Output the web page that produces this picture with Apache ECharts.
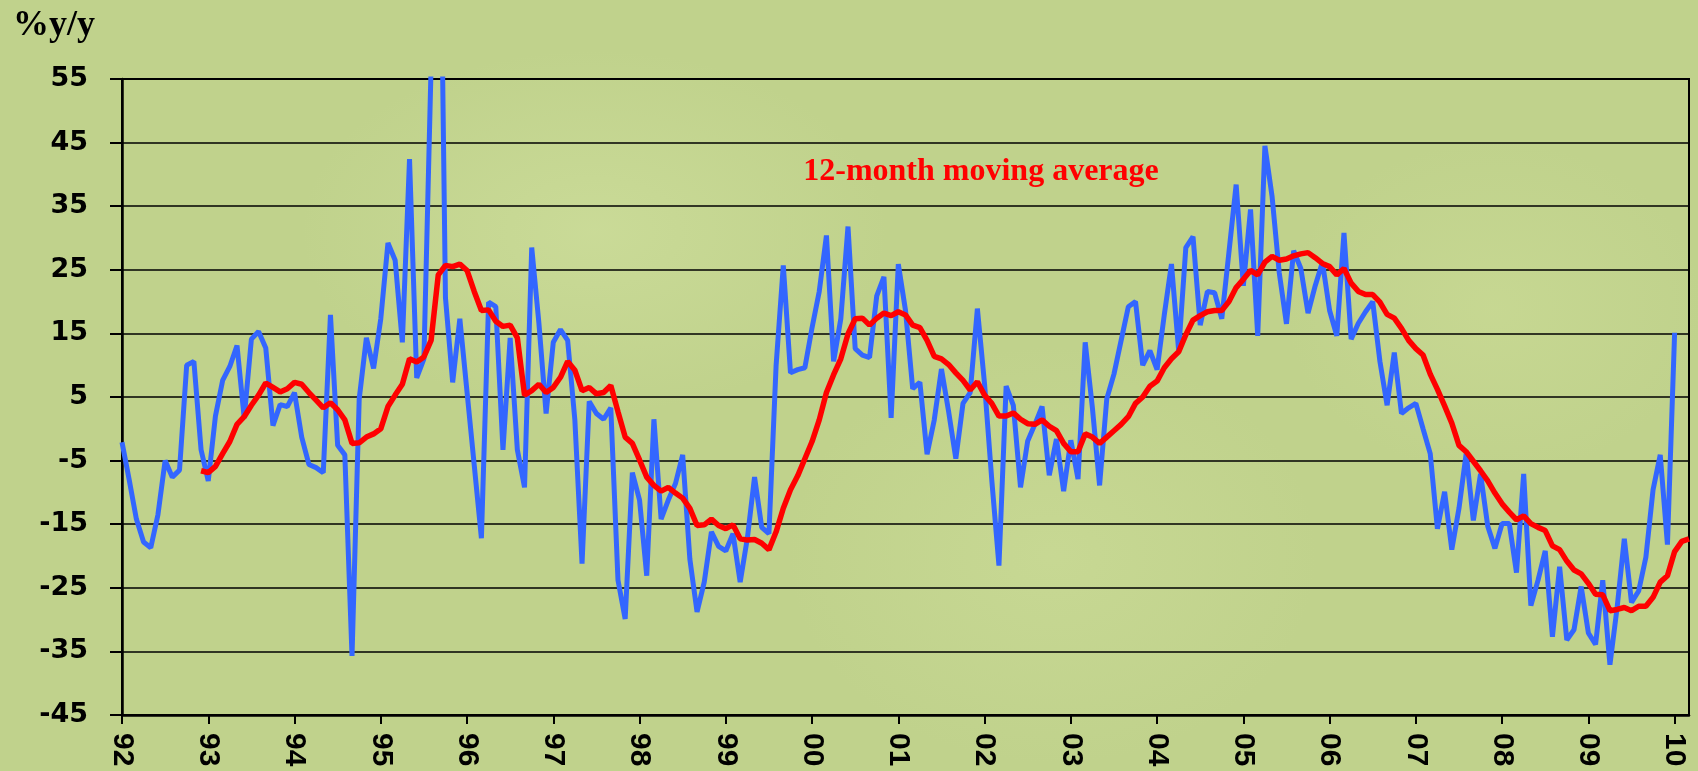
<!DOCTYPE html>
<html>
<head>
<meta charset="utf-8">
<title>%y/y</title>
<script src="https://cdn.jsdelivr.net/npm/echarts@6/dist/echarts.min.js"></script>
<style>
html, body { margin: 0; padding: 0; }
#main {
    width: 1698px;
    height: 771px;
    background-color: #c0d28c;
    background-image:
        radial-gradient(ellipse 420px 260px at 35% 30%, rgba(206,222,156,0.7), rgba(206,222,156,0) 70%),
        radial-gradient(ellipse 380px 300px at 62% 72%, rgba(204,220,152,0.6), rgba(204,220,152,0) 70%),
        radial-gradient(ellipse 300px 240px at 88% 40%, rgba(203,219,150,0.6), rgba(203,219,150,0) 70%);
}
</style>
</head>
<body>
<div id="main"></div>
<script>
// year labels on the x axis, one every 12 months starting Jan 1992
var yearTicks = ['92','93','94','95','96','97','98','99','00','01','02','03','04','05','06','07','08','09','10'];

// monthly %y/y, Jan 1992 .. Jan 2010 (one row per year)
var monthly = [
    -2.1, -8, -14.2, -17.8, -18.7, -13.5, -5.0, -7.6, -6.5, 10.0, 10.6, -3.3,
    -8.2, 2.0, 7.6, 9.8, 13.1, 1.7, 14.1, 15.3, 12.7, 0.5, 3.8, 3.5,
    5.7, -1.3, -5.6, -6.1, -6.9, 17.9, -2.6, -4.1, -35.7, 4.7, 14.3, 9.5,
    17.3, 29.2, 26.5, 13.6, 42.4, 8.0, 11.0, 57, 110, 20.6, 7.3, 17.3,
    5.8, -5.7, -17.2, 19.9, 19.2, -3.3, 14.3, -3.3, -9.2, 28.5, 16.6, 2.4,
    13.6, 15.6, 13.9, 1.4, -21.2, 4.3, 2.4, 1.5, 3.3, -23.8, -29.9, -6.9,
    -11.2, -23.1, 1.5, -14.2, -11.2, -8.6, -4.1, -20.5, -28.8, -24.1, -16.2, -18.5,
    -19.2, -16.5, -24.1, -17.2, -7.6, -15.5, -16.5, 10.0, 25.7, 8.8, 9.3, 9.6,
    15.9, 21.6, 30.4, 10.6, 17.3, 31.8, 12.6, 11.6, 11.2, 20.9, 23.9, 1.7,
    25.9, 18.6, 6.3, 7.3, -4.0, 1.4, 9.4, 2.7, -4.7, 4.0, 5.7, 18.9,
    7, -8, -21.5, 6.7, 3.7, -9.2, -1.9, 0.7, 3.5, -7.3, -1.6, -9.8,
    -1.8, -7.9, 13.6, 3.3, -8.9, 4.7, 8.6, 13.9, 19.2, 20.0, 10.0, 12.3,
    9.3, 17.9, 25.9, 12.3, 28.5, 30.2, 16.3, 21.6, 21.4, 17.3, 27.8, 38.4,
    22.5, 34.5, 14.6, 44.5, 36.5, 24.5, 16.5, 28.0, 25.2, 18.2, 22.5, 26.2,
    18.6, 14.6, 30.8, 14.1, 16.6, 18.4, 20.0, 10.6, 3.7, 12.0, 2.4, 3.3,
    4.0, 0.0, -3.9, -15.7, -9.9, -19.0, -12.5, -3.9, -14.4, -7.1, -15.3, -18.8,
    -14.9, -14.9, -22.6, -7.1, -27.8, -23.8, -19.2, -32.7, -21.7, -33.2, -31.6, -24.8,
    -32.1, -33.9, -23.8, -37.1, -28.1, -17.3, -27.3, -25.5, -20.2, -9.6, -4.1, -18.2,
    15.1
];

// 12-month moving average, starts Dec 1992 (month 11)
var maFirstMonth = 11;
var movingAvg = [
    -6.6,
    -6.9, -5.9, -3.9, -2.0, 0.7, 1.9, 3.7, 5.3, 7.2, 6.5, 5.8, 6.3,
    7.3, 7.0, 5.7, 4.5, 3.3, 4.1, 3.0, 1.4, -2.3, -2.2, -1.3, -0.8,
    0.0, 3.5, 5.3, 7.0, 11.0, 10.5, 11.3, 13.9, 24.2, 25.7, 25.5, 25.9,
    24.9, 21.6, 18.6, 18.7, 16.9, 16.1, 16.3, 14.3, 5.3, 6.0, 7.0, 5.7,
    6.5, 8.1, 10.6, 9.2, 6.0, 6.5, 5.5, 5.7, 6.8, 2.7, -1.3, -2.3,
    -4.9, -7.6, -8.9, -9.8, -9.2, -10.1, -10.9, -12.5, -15.2, -15.1, -14.2, -15.2,
    -15.7, -15.1, -17.3, -17.5, -17.4, -18.0, -19.0, -16.2, -12.5, -9.6, -7.4, -4.7,
    -2.0, 1.4, 5.7, 8.5, 11.0, 14.9, 17.3, 17.4, 16.3, 17.4, 18.2, 17.8,
    18.4, 17.9, 16.3, 15.9, 13.9, 11.4, 11.0, 10.1, 8.8, 7.6, 6.1, 7.4,
    5.3, 4.0, 2.0, 2.0, 2.5, 1.5, 0.8, 0.7, 1.4, 0.4, -0.3, -2.3,
    -3.6, -3.6, -0.8, -1.3, -2.3, -1.3, -0.3, 0.7, 1.9, 4.0, 5.0, 6.7,
    7.5, 9.6, 11.0, 12.1, 14.8, 17.1, 17.8, 18.4, 18.6, 18.6, 20.0, 22.2,
    23.5, 24.9, 24.2, 26.2, 27.1, 26.5, 26.7, 27.2, 27.5, 27.7, 26.9, 26.0,
    25.5, 24.2, 25.2, 22.9, 21.6, 21.1, 21.1, 19.9, 18.0, 17.4, 15.8, 13.9,
    12.6, 11.6, 8.6, 6.2, 3.6, 0.9, -2.6, -3.6, -5.1, -6.6, -8.2, -10.1,
    -11.8, -13.1, -14.3, -13.7, -14.9, -15.5, -16.0, -18.4, -19.0, -20.8, -22.2, -22.8,
    -24.3, -26.0, -26.1, -28.6, -28.4, -28.1, -28.6, -27.9, -27.9, -26.5, -24.1, -23.1,
    -19.3, -17.7, -17.3
];

var yTicks = [-45, -35, -25, -15, -5, 5, 15, 25, 35, 45, 55];

function toPairs(values, start) {
    var out = [];
    for (var i = 0; i < values.length; i++) {
        out.push([start + i, values[i]]);
    }
    return out;
}

var tickMonths = yearTicks.map(function (t, i) { return i * 12; });

var myChart = echarts.init(document.getElementById('main'), null, { renderer: 'canvas' });
myChart.setOption({
    animation: false,
    backgroundColor: 'transparent',
    title: {
        text: '%y/y',
        left: 13,
        top: 8,
        padding: 0,
        textStyle: {
            fontFamily: 'Liberation Serif',
            fontWeight: 'bold',
            fontSize: 36,
            color: '#000'
        }
    },
    grid: {
        left: 122,
        right: 9,
        top: 79,
        bottom: 56,
        show: true,
        borderColor: '#000',
        borderWidth: 2
    },
    xAxis: {
        type: 'value',
        min: 0,
        max: 218,
        interval: 12,
        axisLine: { show: true, onZero: false, lineStyle: { color: '#000', width: 2.5 } },
        axisTick: {
            show: true,
            length: 9,
            customValues: tickMonths,
            lineStyle: { color: '#000', width: 2 }
        },
        axisLabel: {
            customValues: tickMonths,
            rotate: -90,
            margin: 18,
            fontFamily: 'Liberation Sans',
            fontWeight: 'bold',
            fontSize: 30,
            color: '#000',
            formatter: function (v) {
                return yearTicks[Math.round(v / 12)] || '';
            }
        },
        splitLine: { show: false }
    },
    yAxis: {
        type: 'value',
        min: -45,
        max: 55,
        interval: 10,
        axisLine: { show: true, lineStyle: { color: '#000', width: 2.5 } },
        axisTick: {
            show: true,
            length: 12,
            customValues: yTicks,
            lineStyle: { color: '#000', width: 2 }
        },
        axisLabel: {
            customValues: yTicks,
            margin: 34,
            fontFamily: 'DejaVu Sans',
            fontWeight: 'bold',
            fontSize: 27,
            color: '#000'
        },
        splitLine: { show: true, lineStyle: { color: '#000', width: 1.5 } }
    },
    graphic: [{
        type: 'text',
        x: 981,
        y: 172,
        style: {
            text: '12-month moving average',
            fill: '#ff0000',
            fontFamily: 'Liberation Serif',
            fontWeight: 'bold',
            fontSize: 32,
            align: 'center',
            verticalAlign: 'middle'
        }
    }],
    series: [
        {
            name: 'monthly',
            type: 'line',
            data: toPairs(monthly, 0),
            showSymbol: false,
            clip: true,
            lineStyle: { color: '#3366ff', width: 5 },
            z: 2
        },
        {
            name: '12-month moving average',
            type: 'line',
            data: toPairs(movingAvg, maFirstMonth),
            showSymbol: false,
            clip: true,
            lineStyle: { color: '#ff0000', width: 5.5 },
            z: 3
        }
    ]
});
</script>
</body>
</html>
